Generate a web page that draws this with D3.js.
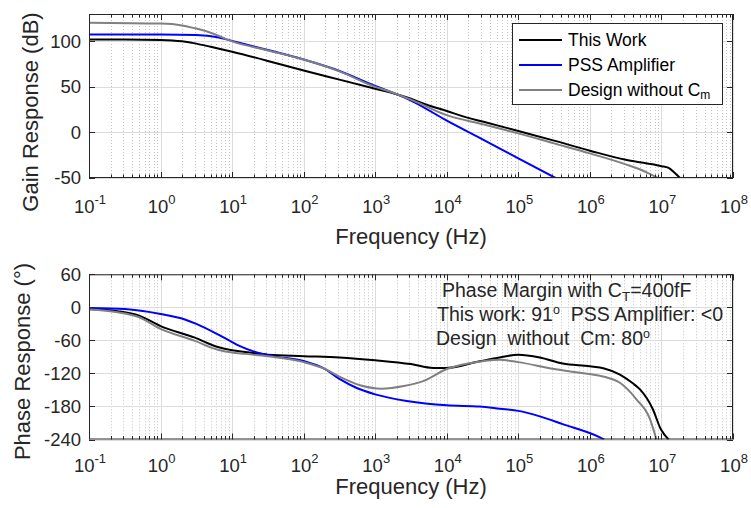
<!DOCTYPE html>
<html><head><meta charset="utf-8">
<script src="https://cdn.jsdelivr.net/npm/d3@7"></script>
<style>
html,body{margin:0;padding:0;background:#fff;}
svg{display:block;font-family:"Liberation Sans",Arial,Helvetica,sans-serif;}
</style></head>
<body>
<svg id="chart" width="751" height="508"></svg>
<script>
// ---------- DATA (frequency given as log10(Hz)) ----------
const xTickExps = [-1,0,1,2,3,4,5,6,7,8];
const gainTicks = [-50,0,50,100];
const phaseTicks = [-240,-180,-120,-60,0,60];
const seriesNames = ["This Work","PSS Amplifier","Design without C"];
const seriesColors = ["#000000","#0000ff","#808080"];

// Gain (dB)
const gainWorkExp = [-1,-0.5,0,0.3,0.5,0.7,1,1.5,2,2.5,3,3.3,3.5,3.7,4,4.3,4.5,5,5.5,6,6.5,6.8,7,7.1,7.18,7.26];
const gainWork    = [102,102,101.5,100,97.5,94,88.5,78.5,68,58,48,42,37,31,23.5,16,12,1.5,-9,-20,-30,-34,-37,-39,-44,-50];
const gainPssExp  = [-1,0,0.5,0.8,1,1.5,2,2.5,3,3.2,3.5,4,4.5,5,5.52];
const gainPss     = [107.5,107.5,107,104.5,100.5,90.5,80,67.5,51,45,35,13,-7.5,-28.5,-50];
const gainNoCmExp = [-1,0,0.3,0.5,0.7,1,1.5,2,2.5,3,3.2,3.5,4,4.5,5,5.5,6,6.5,6.8,6.95];
const gainNoCm    = [120.5,119.5,117.5,114,109.5,100,90,80,67,50,45,36,19,9,-1,-12,-23,-35,-44,-50];

// Phase (degrees)
const phWorkExp = [-1,-0.6,-0.3,0,0.48,0.8,1,1.18,1.5,2,2.5,3,3.5,3.81,4,4.46,4.74,5,5.3,5.62,6,6.2,6.42,6.6,6.7,6.88,6.99,7.1];
const phWork    = [-3,-7,-15,-34,-55,-72,-78,-81,-86,-88.6,-91,-96,-103,-110,-110,-98,-91,-86,-91,-102,-107,-111,-122,-138,-149,-185,-221,-240];
const phPssExp  = [-1,-0.5,0,0.34,0.5,0.8,1,1.11,1.3,1.57,2,2.3,2.5,2.75,3,3.44,4,4.46,4.74,5,5.3,5.62,6.14,6.2];
const phPss     = [-1,-3,-12,-22,-30,-49,-63,-70.5,-80,-88.6,-97.6,-112,-130,-147,-158,-170,-178,-180,-184,-188,-198,-212,-236,-240];
const phNoCmExp = [-1,-0.6,-0.3,0,0.48,0.8,1,1.18,1.5,2,2.3,2.5,2.8,3.09,3.4,3.67,4,4.3,4.74,5,5.5,5.86,6,6.2,6.42,6.65,6.84,6.93];
const phNoCm    = [-4,-9,-18,-39,-61,-77,-82,-84.5,-89,-99.5,-112,-126,-142,-147.7,-143,-134,-112,-102,-95,-99.5,-112,-118.7,-121,-126,-137,-167,-203,-240];

// ---------- DRAWING ----------
const svg = d3.select("#chart");
const axisCol = "#262626";
const xScale = d3.scaleLog().domain([1e-1,1e8]).range([89,733]);

function panel(id, yDomain, yRange, yTicks, series, yTitle, titleX, titleY, xLabelY, xTitleY){
  const y = d3.scaleLinear().domain(yDomain).range(yRange);
  const x = xScale;
  const g = svg.append("g");
  const [x0,x1p] = x.range(); const yb = yRange[0], yt = yRange[1];
  g.append("rect").attr("x",x0).attr("y",yt).attr("width",x1p-x0).attr("height",yb-yt).attr("fill","#fff");
  const minors = [];
  for(let d=-1; d<8; d++) for(let k=2;k<10;k++) minors.push(k*Math.pow(10,d));
  g.selectAll(null).data(minors).enter().append("line")
    .attr("x1",d=>Math.round(x(d))+0.5).attr("x2",d=>Math.round(x(d))+0.5).attr("y1",yt).attr("y2",yb)
    .attr("stroke","#c4c4c4").attr("stroke-width",1).attr("stroke-dasharray","1,2");
  const majors = xTickExps.map(e=>Math.pow(10,e));
  g.selectAll(null).data(majors).enter().append("line")
    .attr("x1",d=>Math.round(x(d))+0.5).attr("x2",d=>Math.round(x(d))+0.5).attr("y1",yt).attr("y2",yb)
    .attr("stroke","#dcdcdc").attr("stroke-width",1);
  g.selectAll(null).data(yTicks).enter().append("line")
    .attr("x1",x0).attr("x2",x1p).attr("y1",d=>Math.round(y(d))+0.5).attr("y2",d=>Math.round(y(d))+0.5)
    .attr("stroke","#dcdcdc").attr("stroke-width",1);
  svg.append("clipPath").attr("id",id).append("rect").attr("x",x0).attr("y",yt).attr("width",x1p-x0).attr("height",yb-yt);
  const line = d3.line().x(d=>x(Math.pow(10,d[0]))).y(d=>y(d[1])).curve(d3.curveMonotoneX);
  series.forEach((s,i)=>{
    const pts = s[0].map((e,j)=>[e,s[1][j]]);
    g.append("path").attr("d",line(pts)).attr("fill","none").attr("stroke",seriesColors[i])
      .attr("stroke-width",2).attr("stroke-linejoin","round").attr("clip-path",`url(#${id})`);
  });
  const tk = g.append("g").attr("stroke",axisCol).attr("stroke-width",1);
  majors.forEach(v=>{const px=Math.round(x(v))+0.5;
    tk.append("line").attr("x1",px).attr("x2",px).attr("y1",yb).attr("y2",yb-6);
    tk.append("line").attr("x1",px).attr("x2",px).attr("y1",yt).attr("y2",yt+6);});
  minors.forEach(v=>{const px=Math.round(x(v))+0.5;
    tk.append("line").attr("x1",px).attr("x2",px).attr("y1",yb).attr("y2",yb-3.5);
    tk.append("line").attr("x1",px).attr("x2",px).attr("y1",yt).attr("y2",yt+3.5);});
  yTicks.forEach(v=>{const py=Math.round(y(v))+0.5;
    tk.append("line").attr("x1",x0).attr("x2",x0+6).attr("y1",py).attr("y2",py);
    tk.append("line").attr("x1",x1p).attr("x2",x1p-6).attr("y1",py).attr("y2",py);});
  g.append("rect").attr("x",x0+0.5).attr("y",yt+0.5).attr("width",x1p-x0-1).attr("height",yb-yt-1)
    .attr("fill","none").attr("stroke",axisCol).attr("stroke-width",1);
  g.selectAll(null).data(yTicks).enter().append("text")
    .attr("x",x0-8).attr("y",d=>y(d)).attr("dy","0.35em").attr("text-anchor","end")
    .attr("font-size",18.5).attr("fill",axisCol).text(d=>d);
  xTickExps.forEach(e=>{
    const t = g.append("text").attr("x",x(Math.pow(10,e))+1).attr("y",xLabelY).attr("text-anchor","middle")
      .attr("font-size",18.5).attr("fill",axisCol);
    t.append("tspan").text("10");
    t.append("tspan").attr("font-size",13).attr("dy",-9).text(e);
  });
  g.append("text").attr("x",(x0+x1p)/2).attr("y",xTitleY).attr("text-anchor","middle")
    .attr("font-size",22).attr("fill",axisCol).text("Frequency (Hz)");
  g.append("text").attr("transform",`translate(${titleX},${titleY}) rotate(-90)`).attr("text-anchor","middle")
    .attr("font-size",22).attr("fill",axisCol).text(yTitle);
  return {g,y};
}

const gainPanel = panel("clipTop",[-50,130],[178,14],gainTicks,
  [[gainWorkExp,gainWork],[gainPssExp,gainPss],[gainNoCmExp,gainNoCm]],
  "Gain Response (dB)",38,112,212.5,243.5);
const phasePanel = panel("clipBot",[-240,60],[439.5,274.3],phaseTicks,
  [[phWorkExp,phWork],[phPssExp,phPss],[phNoCmExp,phNoCm]],
  "Phase Response (°)",30,361.5,471.5,494);

// legend
const lg = svg.append("g");
lg.append("rect").attr("x",512.5).attr("y",23.5).attr("width",210).attr("height",81)
  .attr("fill","#fff").attr("stroke",axisCol).attr("stroke-width",1);
seriesNames.forEach((n,i)=>{
  const cy = 40 + i*25;
  lg.append("line").attr("x1",519).attr("x2",562).attr("y1",cy).attr("y2",cy)
    .attr("stroke",seriesColors[i]).attr("stroke-width",2);
  const t = lg.append("text").attr("x",568).attr("y",cy+6).attr("font-size",17.5).attr("fill","#000").text(n);
  if(i===2) t.append("tspan").attr("font-size",12).attr("dy",3).text("m");
});

// annotation
const NB = "\u00a0";
const an = svg.append("g").attr("font-size",19.5).attr("fill",axisCol);
const a1 = an.append("text").attr("x",442).attr("y",297);
a1.append("tspan").text("Phase Margin with C");
a1.append("tspan").attr("font-size",13.5).attr("dy",3.5).text("T");
a1.append("tspan").attr("dy",-3.5).text("=400fF");
const a2 = an.append("text").attr("x",437).attr("y",321);
a2.append("tspan").text("This work: 91");
a2.append("tspan").attr("font-size",12.5).attr("dy",-7).text("o");
a2.append("tspan").attr("dy",7).text(NB+NB+"PSS Amplifier: <0");
const a3 = an.append("text").attr("x",436).attr("y",345);
a3.append("tspan").text("Design"+NB+NB+"without"+NB+NB+"Cm: 80");
a3.append("tspan").attr("font-size",12.5).attr("dy",-7).text("o");
</script>
</body></html>
